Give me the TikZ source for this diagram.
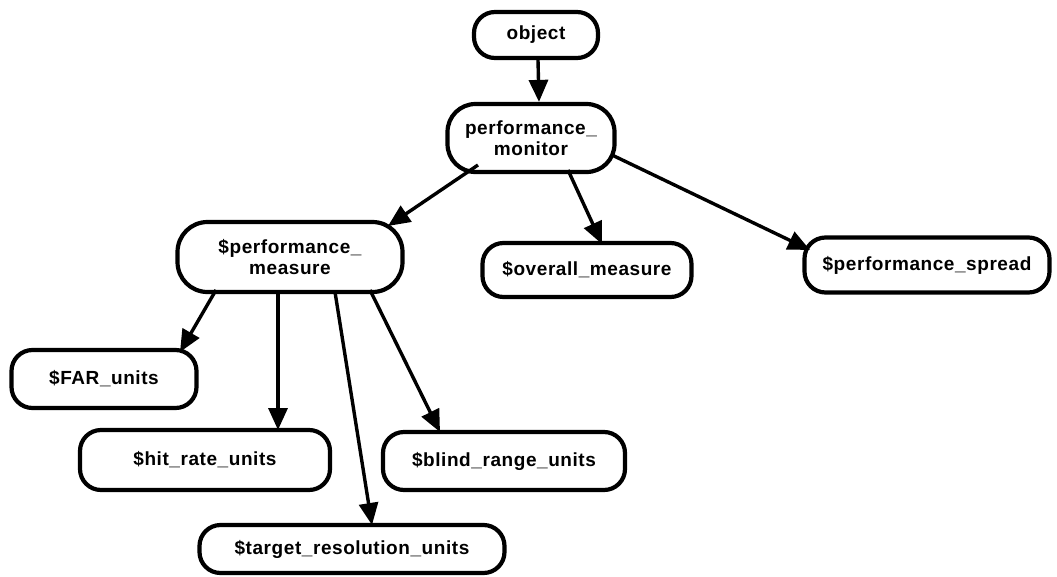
\documentclass[tikz,border=0pt]{standalone}
\usepackage{fontspec}
\setmainfont{Liberation Sans}
\usetikzlibrary{arrows.meta}
\begin{document}
\begin{tikzpicture}[x=1pt,y=-1pt,
  cls/.style={draw,line width=4.2pt,rounded corners=21pt,align=center,
    font=\bfseries\fontsize{19}{21}\selectfont\addfontfeature{LetterSpace=3},inner sep=0pt},
  isa/.style={line width=3.4pt,-{Triangle[length=22pt,width=19pt]}}]
\useasboundingbox (0,0) rectangle (1057,576);
% class nodes
\node[cls,minimum width=124pt,minimum height=46pt] (obj) at (536,35) {object};
\node[cls,minimum width=167pt,minimum height=68pt,rounded corners=28pt] (pmon) at (531,138) {performance\_\\monitor};
\node[cls,minimum width=225pt,minimum height=70pt,rounded corners=30pt] (pmeas) at (290,257) {\$performance\_\\measure};
\node[cls,minimum width=209pt,minimum height=54pt] (overall) at (587,270) {\$overall\_measure};
\node[cls,minimum width=245pt,minimum height=55pt] (spread) at (927,265) {\$performance\_spread};
\node[cls,minimum width=185pt,minimum height=58pt] (far) at (104,379) {\$FAR\_units};
\node[cls,minimum width=250pt,minimum height=60pt] (hit) at (205,460) {\$hit\_rate\_units};
\node[cls,minimum width=242pt,minimum height=58pt] (blind) at (504,461) {\$blind\_range\_units};
\node[cls,minimum width=305pt,minimum height=48pt] (target) at (352,549) {\$target\_resolution\_units};
% inheritance links
\draw[isa] ([xshift=2pt]obj.south) -- ([xshift=8pt]pmon.north);
\draw[isa] ([shift={(-53,27)}]pmon.center) -- ([shift={(98,-31)}]pmeas.center);
\draw[isa] ([shift={(37,32)}]pmon.center) -- ([shift={(15,-26)}]overall.center);
\draw[isa] ([shift={(81,17)}]pmon.center) -- ([shift={(-117,-15)}]spread.center);
\draw[isa] ([shift={(-74,33)}]pmeas.center) -- ([shift={(76,-27)}]far.center);
\draw[isa] ([shift={(-12,35)}]pmeas.center) -- ([shift={(73,-30)}]hit.center);
\draw[isa] ([shift={(45,35)}]pmeas.center) -- ([shift={(20,-24)}]target.center);
\draw[isa] ([shift={(80,33)}]pmeas.center) -- ([shift={(-64,-29)}]blind.center);
\end{tikzpicture}
\end{document}
